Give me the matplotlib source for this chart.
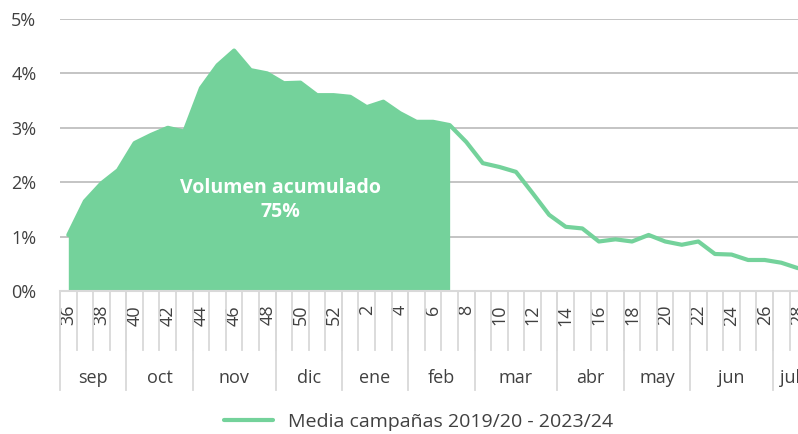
import matplotlib.pyplot as plt
from matplotlib.transforms import blended_transform_factory

plt.rcParams['font.family'] = ['Open Sans', 'DejaVu Sans']

# semanas de campaña (sep -> jul)
semanas = list(range(36, 53)) + list(range(1, 29))
media = [1.03, 1.65, 1.98, 2.22, 2.72, 2.87, 3.00, 2.93, 3.73, 4.15,
         4.42, 4.06, 4.00, 3.82, 3.83, 3.60, 3.60, 3.57, 3.38, 3.48,
         3.27, 3.11, 3.11, 3.05, 2.74, 2.35, 2.28, 2.19, 1.80, 1.40,
         1.18, 1.15, 0.91, 0.95, 0.91, 1.03, 0.91, 0.85, 0.91, 0.68,
         0.67, 0.57, 0.57, 0.52, 0.42]
meses = ["sep", "oct", "nov", "dic", "ene", "feb", "mar", "abr", "may", "jun", "jul"]
semanas_mes = [4, 4, 5, 4, 4, 4, 5, 4, 4, 5, 2]
n_acumulado = 24   # semanas 36 -> 7
texto_acum = "Volumen acumulado\n75%"
leyenda = "Media campañas 2019/20 - 2023/24"

verde = "#74D29B"
gris_txt = "#404040"
gris_lin = "#D9D9D9"

fig = plt.figure(figsize=(7.98, 4.34), dpi=100)
ax = fig.add_axes([0.0752, 0.3295, 0.935, 0.6267])

x = list(range(len(semanas)))
ax.fill_between(x[:n_acumulado], 0, media[:n_acumulado], color=verde, lw=0, zorder=2)
linea, = ax.plot(x, media, color=verde, lw=3, solid_joinstyle="round",
                 solid_capstyle="round", zorder=3, label=leyenda)

ax.set_xlim(-0.5, len(semanas) - 0.5)
ax.set_ylim(0, 5)
ax.set_yticks(range(6))
ax.set_yticklabels([f"{v}%" for v in range(6)])
ax.grid(axis="y", color="#BFBFBF", lw=1.3, zorder=1)
ax.tick_params(axis="y", length=0, pad=17, labelsize=13, labelcolor=gris_txt)

for s in ["top", "right", "left"]:
    ax.spines[s].set_visible(False)
ax.spines["bottom"].set_color(gris_lin)
ax.spines["bottom"].set_linewidth(1.5)

# etiquetas de semana cada 2
pos = [i for i in x if semanas[i] % 2 == 0]
ax.set_xticks(pos)
ax.set_xticklabels([str(semanas[i]) for i in pos], rotation=90)
ax.tick_params(axis="x", length=0, pad=10, labelsize=13, labelcolor=gris_txt)

# separadores de categorías y meses
trans = blended_transform_factory(ax.transData, ax.transAxes)
for i in range(len(semanas) + 1):
    ax.plot([i - 0.5, i - 0.5], [0, -0.217], transform=trans, color=gris_lin,
            lw=1.3, clip_on=False)
inicio = 0
for mes, n in zip(meses, semanas_mes):
    ax.plot([inicio - 0.5, inicio - 0.5], [0, -0.364], transform=trans,
            color=gris_lin, lw=1.3, clip_on=False)
    ax.text(inicio + n / 2 - 0.5, -0.32, mes, transform=trans, ha="center",
            va="center", fontsize=13, color=gris_txt)
    inicio += n

ax.text(12.8, 1.67, texto_acum, ha="center", va="center", color="white",
        fontsize=14, fontweight="bold", linespacing=1.3, zorder=4)

fig.legend(handles=[linea], loc="center", bbox_to_anchor=(0.525, 0.028),
           frameon=False, fontsize=14, handlelength=2.5, labelcolor=gris_txt)

fig.savefig("out.png", dpi=100)
